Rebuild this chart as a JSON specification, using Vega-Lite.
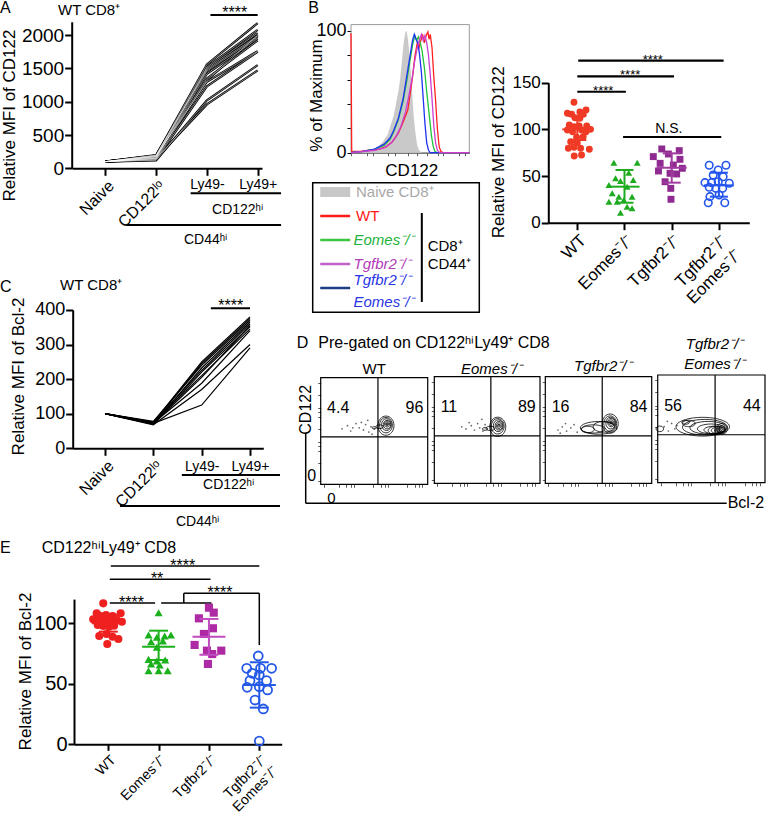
{
"$schema":"https://vega.github.io/schema/vega-lite/v6.json",
"width":766,"height":815,"autosize":"none","padding":0,"background":"white",
"config":{
 "font":"Liberation Sans",
 "view":{"stroke":null},
 "legend":{"disable":true},
 "axis":{"grid":false,"domainColor":"#000","domainWidth":2,"tickColor":"#000","tickWidth":2,"tickSize":7,"labelColor":"#000","titleColor":"#000","labelFont":"Liberation Sans","titleFont":"Liberation Sans","titleFontWeight":"normal","labelOverlap":false,"labelFlush":false,"labelBound":false,"labelLimit":0},
 "text":{"color":"#000","font":"Liberation Sans"}
},
"datasets":{
 "linesA":[
  {"m":1,"stage":"Naive","mfi":100},{"m":1,"stage":"CD122lo","mfi":190},{"m":1,"stage":"Ly49-","mfi":1560},{"m":1,"stage":"Ly49+","mfi":2180},
  {"m":2,"stage":"Naive","mfi":100},{"m":2,"stage":"CD122lo","mfi":180},{"m":2,"stage":"Ly49-","mfi":1520},{"m":2,"stage":"Ly49+","mfi":2080},
  {"m":3,"stage":"Naive","mfi":100},{"m":3,"stage":"CD122lo","mfi":170},{"m":3,"stage":"Ly49-","mfi":1500},{"m":3,"stage":"Ly49+","mfi":2030},
  {"m":4,"stage":"Naive","mfi":100},{"m":4,"stage":"CD122lo","mfi":200},{"m":4,"stage":"Ly49-","mfi":1480},{"m":4,"stage":"Ly49+","mfi":1990},
  {"m":5,"stage":"Naive","mfi":100},{"m":5,"stage":"CD122lo","mfi":160},{"m":5,"stage":"Ly49-","mfi":1460},{"m":5,"stage":"Ly49+","mfi":1970},
  {"m":6,"stage":"Naive","mfi":100},{"m":6,"stage":"CD122lo","mfi":150},{"m":6,"stage":"Ly49-","mfi":1420},{"m":6,"stage":"Ly49+","mfi":1950},
  {"m":7,"stage":"Naive","mfi":100},{"m":7,"stage":"CD122lo","mfi":175},{"m":7,"stage":"Ly49-","mfi":1350},{"m":7,"stage":"Ly49+","mfi":1920},
  {"m":8,"stage":"Naive","mfi":100},{"m":8,"stage":"CD122lo","mfi":140},{"m":8,"stage":"Ly49-","mfi":1320},{"m":8,"stage":"Ly49+","mfi":2000},
  {"m":9,"stage":"Naive","mfi":100},{"m":9,"stage":"CD122lo","mfi":190},{"m":9,"stage":"Ly49-","mfi":1300},{"m":9,"stage":"Ly49+","mfi":1760},
  {"m":10,"stage":"Naive","mfi":100},{"m":10,"stage":"CD122lo","mfi":130},{"m":10,"stage":"Ly49-","mfi":1230},{"m":10,"stage":"Ly49+","mfi":1750},
  {"m":11,"stage":"Naive","mfi":100},{"m":11,"stage":"CD122lo","mfi":120},{"m":11,"stage":"Ly49-","mfi":1020},{"m":11,"stage":"Ly49+","mfi":1550},
  {"m":12,"stage":"Naive","mfi":100},{"m":12,"stage":"CD122lo","mfi":150},{"m":12,"stage":"Ly49-","mfi":960},{"m":12,"stage":"Ly49+","mfi":1470}
 ],
 "linesC":[
  {"m":1,"stage":"Naive","mfi":100},{"m":1,"stage":"CD122lo","mfi":75},{"m":1,"stage":"Ly49-","mfi":250},{"m":1,"stage":"Ly49+","mfi":380},
  {"m":2,"stage":"Naive","mfi":100},{"m":2,"stage":"CD122lo","mfi":72},{"m":2,"stage":"Ly49-","mfi":245},{"m":2,"stage":"Ly49+","mfi":375},
  {"m":3,"stage":"Naive","mfi":100},{"m":3,"stage":"CD122lo","mfi":78},{"m":3,"stage":"Ly49-","mfi":240},{"m":3,"stage":"Ly49+","mfi":370},
  {"m":4,"stage":"Naive","mfi":100},{"m":4,"stage":"CD122lo","mfi":70},{"m":4,"stage":"Ly49-","mfi":232},{"m":4,"stage":"Ly49+","mfi":365},
  {"m":5,"stage":"Naive","mfi":100},{"m":5,"stage":"CD122lo","mfi":74},{"m":5,"stage":"Ly49-","mfi":225},{"m":5,"stage":"Ly49+","mfi":360},
  {"m":6,"stage":"Naive","mfi":100},{"m":6,"stage":"CD122lo","mfi":69},{"m":6,"stage":"Ly49-","mfi":220},{"m":6,"stage":"Ly49+","mfi":352},
  {"m":7,"stage":"Naive","mfi":100},{"m":7,"stage":"CD122lo","mfi":76},{"m":7,"stage":"Ly49-","mfi":210},{"m":7,"stage":"Ly49+","mfi":345},
  {"m":8,"stage":"Naive","mfi":100},{"m":8,"stage":"CD122lo","mfi":71},{"m":8,"stage":"Ly49-","mfi":205},{"m":8,"stage":"Ly49+","mfi":355},
  {"m":9,"stage":"Naive","mfi":100},{"m":9,"stage":"CD122lo","mfi":73},{"m":9,"stage":"Ly49-","mfi":188},{"m":9,"stage":"Ly49+","mfi":340},
  {"m":10,"stage":"Naive","mfi":100},{"m":10,"stage":"CD122lo","mfi":68},{"m":10,"stage":"Ly49-","mfi":170},{"m":10,"stage":"Ly49+","mfi":300},
  {"m":11,"stage":"Naive","mfi":100},{"m":11,"stage":"CD122lo","mfi":72},{"m":11,"stage":"Ly49-","mfi":125},{"m":11,"stage":"Ly49+","mfi":290}
 ],
 "sigA":[{"from":2.07,"to":3.0,"mid":2.55,"y":2302,"label":"****"}],
 "sigC":[{"from":2.19,"to":3.0,"mid":2.6,"y":405,"label":"****"}],
 "hist":[
  {"sample":"Naive","cd122":0,"pct":0},{"sample":"Naive","cd122":8,"pct":0.5},{"sample":"Naive","cd122":15,"pct":1.5},{"sample":"Naive","cd122":22,"pct":4},{"sample":"Naive","cd122":27,"pct":9},{"sample":"Naive","cd122":31,"pct":15},{"sample":"Naive","cd122":34,"pct":24},{"sample":"Naive","cd122":36,"pct":30},{"sample":"Naive","cd122":38,"pct":40},{"sample":"Naive","cd122":40,"pct":50},{"sample":"Naive","cd122":41.5,"pct":60},{"sample":"Naive","cd122":43,"pct":75},{"sample":"Naive","cd122":44.5,"pct":90},{"sample":"Naive","cd122":46,"pct":99},{"sample":"Naive","cd122":47,"pct":100},{"sample":"Naive","cd122":48,"pct":94},{"sample":"Naive","cd122":49,"pct":85},{"sample":"Naive","cd122":50,"pct":74},{"sample":"Naive","cd122":51,"pct":60},{"sample":"Naive","cd122":52,"pct":44},{"sample":"Naive","cd122":53,"pct":30},{"sample":"Naive","cd122":54,"pct":20},{"sample":"Naive","cd122":55,"pct":12},{"sample":"Naive","cd122":56,"pct":6},{"sample":"Naive","cd122":57.5,"pct":2},{"sample":"Naive","cd122":60,"pct":0},{"sample":"Naive","cd122":100,"pct":0},
  {"sample":"WT","cd122":0,"pct":98},{"sample":"WT","cd122":0.6,"pct":1},{"sample":"WT","cd122":8,"pct":1},{"sample":"WT","cd122":16,"pct":2},{"sample":"WT","cd122":24,"pct":3},{"sample":"WT","cd122":30,"pct":5},{"sample":"WT","cd122":35,"pct":9},{"sample":"WT","cd122":40,"pct":16},{"sample":"WT","cd122":44,"pct":25},{"sample":"WT","cd122":48,"pct":35},{"sample":"WT","cd122":50,"pct":48},{"sample":"WT","cd122":52,"pct":62},{"sample":"WT","cd122":54,"pct":79},{"sample":"WT","cd122":56,"pct":90},{"sample":"WT","cd122":57.5,"pct":86},{"sample":"WT","cd122":59,"pct":92},{"sample":"WT","cd122":60.5,"pct":97},{"sample":"WT","cd122":62,"pct":90},{"sample":"WT","cd122":63.5,"pct":96},{"sample":"WT","cd122":65,"pct":99},{"sample":"WT","cd122":66,"pct":93},{"sample":"WT","cd122":67,"pct":97},{"sample":"WT","cd122":68.5,"pct":86},{"sample":"WT","cd122":70,"pct":62},{"sample":"WT","cd122":71.5,"pct":43},{"sample":"WT","cd122":73,"pct":20},{"sample":"WT","cd122":74.5,"pct":5},{"sample":"WT","cd122":76,"pct":1},{"sample":"WT","cd122":78,"pct":0},{"sample":"WT","cd122":100,"pct":0},
  {"sample":"Eomes","cd122":0,"pct":0},{"sample":"Eomes","cd122":10,"pct":1},{"sample":"Eomes","cd122":20,"pct":3},{"sample":"Eomes","cd122":28,"pct":6},{"sample":"Eomes","cd122":33,"pct":11},{"sample":"Eomes","cd122":36,"pct":17},{"sample":"Eomes","cd122":40,"pct":27},{"sample":"Eomes","cd122":44,"pct":42},{"sample":"Eomes","cd122":47,"pct":58},{"sample":"Eomes","cd122":50,"pct":76},{"sample":"Eomes","cd122":52,"pct":88},{"sample":"Eomes","cd122":54,"pct":96},{"sample":"Eomes","cd122":55.5,"pct":92},{"sample":"Eomes","cd122":57,"pct":95},{"sample":"Eomes","cd122":58.5,"pct":90},{"sample":"Eomes","cd122":60,"pct":84},{"sample":"Eomes","cd122":62,"pct":70},{"sample":"Eomes","cd122":64,"pct":50},{"sample":"Eomes","cd122":66,"pct":32},{"sample":"Eomes","cd122":68,"pct":14},{"sample":"Eomes","cd122":69.5,"pct":5},{"sample":"Eomes","cd122":71,"pct":1},{"sample":"Eomes","cd122":73,"pct":0},{"sample":"Eomes","cd122":100,"pct":0},
  {"sample":"DKO","cd122":0,"pct":0},{"sample":"DKO","cd122":10,"pct":1},{"sample":"DKO","cd122":20,"pct":3},{"sample":"DKO","cd122":28,"pct":7},{"sample":"DKO","cd122":33,"pct":12},{"sample":"DKO","cd122":36,"pct":18},{"sample":"DKO","cd122":40,"pct":28},{"sample":"DKO","cd122":44,"pct":44},{"sample":"DKO","cd122":47,"pct":62},{"sample":"DKO","cd122":50,"pct":80},{"sample":"DKO","cd122":52,"pct":92},{"sample":"DKO","cd122":53.5,"pct":97},{"sample":"DKO","cd122":55,"pct":93},{"sample":"DKO","cd122":56.5,"pct":90},{"sample":"DKO","cd122":58,"pct":80},{"sample":"DKO","cd122":59.5,"pct":66},{"sample":"DKO","cd122":61,"pct":45},{"sample":"DKO","cd122":62.5,"pct":24},{"sample":"DKO","cd122":64,"pct":8},{"sample":"DKO","cd122":65.5,"pct":2},{"sample":"DKO","cd122":67,"pct":0},{"sample":"DKO","cd122":100,"pct":0},
  {"sample":"Tgfbr2","cd122":0,"pct":0},{"sample":"Tgfbr2","cd122":10,"pct":1},{"sample":"Tgfbr2","cd122":20,"pct":2},{"sample":"Tgfbr2","cd122":28,"pct":4},{"sample":"Tgfbr2","cd122":34,"pct":8},{"sample":"Tgfbr2","cd122":38,"pct":13},{"sample":"Tgfbr2","cd122":42,"pct":21},{"sample":"Tgfbr2","cd122":46,"pct":33},{"sample":"Tgfbr2","cd122":49,"pct":47},{"sample":"Tgfbr2","cd122":52,"pct":63},{"sample":"Tgfbr2","cd122":54,"pct":76},{"sample":"Tgfbr2","cd122":56,"pct":86},{"sample":"Tgfbr2","cd122":58,"pct":93},{"sample":"Tgfbr2","cd122":59.5,"pct":97},{"sample":"Tgfbr2","cd122":61,"pct":92},{"sample":"Tgfbr2","cd122":62.5,"pct":96},{"sample":"Tgfbr2","cd122":64,"pct":90},{"sample":"Tgfbr2","cd122":65.5,"pct":80},{"sample":"Tgfbr2","cd122":67,"pct":64},{"sample":"Tgfbr2","cd122":68.5,"pct":44},{"sample":"Tgfbr2","cd122":70,"pct":22},{"sample":"Tgfbr2","cd122":71.5,"pct":8},{"sample":"Tgfbr2","cd122":73,"pct":2},{"sample":"Tgfbr2","cd122":75,"pct":0},{"sample":"Tgfbr2","cd122":100,"pct":0}
 ],
 "legendB":[{"kind":"Naive","label":"Naive CD8⁺"},{"kind":"WT","label":"WT"},{"kind":"Eomes","label":"Eomes⁻/⁻"},{"kind":"Tgfbr2","label":"Tgfbr2⁻/⁻"},{"kind":"DKO","label":"Tgfbr2⁻/⁻\nEomes⁻/⁻"}],
 "dotB":[
  {"group":"WT","dx":-0.14,"mfi":129.0},{"group":"WT","dx":-0.42,"mfi":117.2},{"group":"WT","dx":-0.24,"mfi":116.1},{"group":"WT","dx":0.11,"mfi":118.6},{"group":"WT","dx":0.37,"mfi":120.8},{"group":"WT","dx":0.25,"mfi":116.1},{"group":"WT","dx":-0.1,"mfi":112.5},{"group":"WT","dx":0.11,"mfi":111.8},{"group":"WT","dx":-0.34,"mfi":104.7},{"group":"WT","dx":-0.14,"mfi":102.9},{"group":"WT","dx":0.08,"mfi":103.6},{"group":"WT","dx":0.4,"mfi":103.6},{"group":"WT","dx":0.56,"mfi":100},{"group":"WT","dx":-0.42,"mfi":99.3},{"group":"WT","dx":-0.2,"mfi":97.5},{"group":"WT","dx":0.18,"mfi":99.3},{"group":"WT","dx":0.37,"mfi":97.5},{"group":"WT","dx":-0.03,"mfi":91.5},{"group":"WT","dx":0.25,"mfi":92.1},{"group":"WT","dx":-0.28,"mfi":86.8},{"group":"WT","dx":0,"mfi":85.7},{"group":"WT","dx":-0.38,"mfi":79.7},{"group":"WT","dx":-0.14,"mfi":80.8},{"group":"WT","dx":0.14,"mfi":79.7},{"group":"WT","dx":0.51,"mfi":78.6},{"group":"WT","dx":-0.13,"mfi":71.5},{"group":"WT","dx":0.18,"mfi":72.5},
  {"group":"Eomes","dx":-0.45,"mfi":64.3},{"group":"Eomes","dx":0.54,"mfi":64.3},{"group":"Eomes","dx":0.18,"mfi":53.6},{"group":"Eomes","dx":-0.38,"mfi":47.5},{"group":"Eomes","dx":0.37,"mfi":45.7},{"group":"Eomes","dx":-0.17,"mfi":44.6},{"group":"Eomes","dx":-0.66,"mfi":40.4},{"group":"Eomes","dx":0.11,"mfi":38.6},{"group":"Eomes","dx":-0.52,"mfi":31.5},{"group":"Eomes","dx":-0.24,"mfi":27.9},{"group":"Eomes","dx":0.32,"mfi":27.9},{"group":"Eomes","dx":-0.03,"mfi":24.3},{"group":"Eomes","dx":-0.66,"mfi":22.5},{"group":"Eomes","dx":-0.31,"mfi":22.5},{"group":"Eomes","dx":0.11,"mfi":17.1},{"group":"Eomes","dx":0.32,"mfi":15.4},{"group":"Eomes","dx":-0.17,"mfi":10.7},
  {"group":"Tgfbr2","dx":-0.42,"mfi":79.0},{"group":"Tgfbr2","dx":0.32,"mfi":77.2},{"group":"Tgfbr2","dx":-0.78,"mfi":70.8},{"group":"Tgfbr2","dx":-0.14,"mfi":73.6},{"group":"Tgfbr2","dx":0.35,"mfi":67.9},{"group":"Tgfbr2","dx":-0.49,"mfi":63.6},{"group":"Tgfbr2","dx":0.07,"mfi":61.8},{"group":"Tgfbr2","dx":0.45,"mfi":58.3},{"group":"Tgfbr2","dx":-0.56,"mfi":55.4},{"group":"Tgfbr2","dx":-0.07,"mfi":52.9},{"group":"Tgfbr2","dx":0.21,"mfi":52.2},{"group":"Tgfbr2","dx":-0.28,"mfi":43.9},{"group":"Tgfbr2","dx":-0.04,"mfi":36.8},{"group":"Tgfbr2","dx":-0.03,"mfi":25.1},
  {"group":"DKO","dx":-0.41,"mfi":61.5},{"group":"DKO","dx":0.3,"mfi":61.5},{"group":"DKO","dx":-0.03,"mfi":56.4},{"group":"DKO","dx":-0.24,"mfi":51.1},{"group":"DKO","dx":0.18,"mfi":49.3},{"group":"DKO","dx":-0.59,"mfi":42.9},{"group":"DKO","dx":-0.31,"mfi":42.9},{"group":"DKO","dx":-0.03,"mfi":43.9},{"group":"DKO","dx":0.44,"mfi":42.2},{"group":"DKO","dx":-0.41,"mfi":37.9},{"group":"DKO","dx":-0.13,"mfi":36.8},{"group":"DKO","dx":0.16,"mfi":36.8},{"group":"DKO","dx":-0.38,"mfi":27.9},{"group":"DKO","dx":0.01,"mfi":29.7},{"group":"DKO","dx":-0.45,"mfi":21.4},{"group":"DKO","dx":0.25,"mfi":21.4}
 ],
 "sumB":[{"group":"WT","mean":100,"lo":88.6,"hi":114.3},{"group":"Eomes","mean":38.6,"lo":21.4,"hi":56.5},{"group":"Tgfbr2","mean":58.9,"lo":42.9,"hi":74.3},{"group":"DKO","mean":40,"lo":27.9,"hi":53.6}],
 "sigB":[{"from":0,"to":1.03,"mid":0.55,"y":140.3,"label":"****"},{"from":0,"to":2.05,"mid":1.12,"y":156.8,"label":"****"},{"from":0.02,"to":3.1,"mid":1.6,"y":173.6,"label":"****"},{"from":0.97,"to":3.05,"mid":1.94,"y":91.8,"label":"N.S."}],
 "dotE":[
  {"group":"WT","dx":-0.2,"mfi":116.5},{"group":"WT","dx":-0.46,"mfi":108.3},{"group":"WT","dx":-0.3,"mfi":106},{"group":"WT","dx":-0.09,"mfi":106.9},{"group":"WT","dx":0.17,"mfi":106},{"group":"WT","dx":0.49,"mfi":108.3},{"group":"WT","dx":-0.6,"mfi":103.3},{"group":"WT","dx":-0.37,"mfi":102.7},{"group":"WT","dx":-0.13,"mfi":102.2},{"group":"WT","dx":0.09,"mfi":101.3},{"group":"WT","dx":0.33,"mfi":102.7},{"group":"WT","dx":0.54,"mfi":101.3},{"group":"WT","dx":-0.42,"mfi":98.6},{"group":"WT","dx":-0.2,"mfi":97.8},{"group":"WT","dx":0.03,"mfi":97.2},{"group":"WT","dx":0.23,"mfi":98},{"group":"WT","dx":-0.36,"mfi":89.5},{"group":"WT","dx":-0.07,"mfi":91.2},{"group":"WT","dx":0.17,"mfi":88.9},{"group":"WT","dx":0.4,"mfi":87},{"group":"WT","dx":-0.04,"mfi":82.9},
  {"group":"Eomes","dx":0,"mfi":108.8},{"group":"Eomes","dx":-0.4,"mfi":90.3},{"group":"Eomes","dx":-0.07,"mfi":88.4},{"group":"Eomes","dx":0.24,"mfi":89.5},{"group":"Eomes","dx":0.49,"mfi":90.3},{"group":"Eomes","dx":-0.3,"mfi":84.8},{"group":"Eomes","dx":0.17,"mfi":85.4},{"group":"Eomes","dx":-0.07,"mfi":80.2},{"group":"Eomes","dx":-0.4,"mfi":70.2},{"group":"Eomes","dx":-0.07,"mfi":68.8},{"group":"Eomes","dx":0.26,"mfi":69.7},{"group":"Eomes","dx":-0.3,"mfi":66.4},{"group":"Eomes","dx":0.04,"mfi":65.5},{"group":"Eomes","dx":-0.4,"mfi":60.8},{"group":"Eomes","dx":0,"mfi":60.8},{"group":"Eomes","dx":0.36,"mfi":60.8},
  {"group":"Tgfbr2","dx":0,"mfi":112.9},{"group":"Tgfbr2","dx":0.19,"mfi":108.8},{"group":"Tgfbr2","dx":-0.4,"mfi":104.1},{"group":"Tgfbr2","dx":0.16,"mfi":95.9},{"group":"Tgfbr2","dx":-0.2,"mfi":91.2},{"group":"Tgfbr2","dx":-0.57,"mfi":82.1},{"group":"Tgfbr2","dx":-0.08,"mfi":77.4},{"group":"Tgfbr2","dx":0.49,"mfi":77.4},{"group":"Tgfbr2","dx":0.13,"mfi":74.6},{"group":"Tgfbr2","dx":-0.04,"mfi":66.4},
  {"group":"DKO","dx":-0.04,"mfi":73},{"group":"DKO","dx":-0.5,"mfi":62.8},{"group":"DKO","dx":0.05,"mfi":62.8},{"group":"DKO","dx":0.49,"mfi":62.8},{"group":"DKO","dx":-0.28,"mfi":58.7},{"group":"DKO","dx":0,"mfi":57.3},{"group":"DKO","dx":-0.37,"mfi":52.6},{"group":"DKO","dx":0.29,"mfi":52.6},{"group":"DKO","dx":0,"mfi":47.6},{"group":"DKO","dx":-0.48,"mfi":47.1},{"group":"DKO","dx":0.33,"mfi":44.9},{"group":"DKO","dx":-0.17,"mfi":36.6},{"group":"DKO","dx":0.16,"mfi":29.2},{"group":"DKO","dx":0,"mfi":2.7}
 ],
 "sumE":[{"group":"WT","mean":100,"lo":93.1,"hi":106.9},{"group":"Eomes","mean":80.7,"lo":69.7,"hi":93.9},{"group":"Tgfbr2","mean":88.9,"lo":74,"hi":103.6},{"group":"DKO","mean":49,"lo":30.3,"hi":67.8}],
 "sigEh":[{"from":0.03,"to":0.93,"y":116.8},{"from":1.05,"to":2.05,"y":116.8},{"from":1.5,"to":3,"y":124.8},{"from":0.03,"to":2.03,"y":136.5},{"from":0.05,"to":3,"y":147.4}],
 "sigEv":[{"x":1.5,"y1":116.8,"y2":124.8},{"x":3,"y1":124.8,"y2":82}],
 "sigEt":[{"x":0.46,"y":116.8,"t":"****"},{"x":2.22,"y":124.8,"t":"****"},{"x":0.97,"y":136.5,"t":"**"},{"x":1.48,"y":147.4,"t":"****"}],
 "flowD":[
  {"geno":"WT","bcl2":61,"cd122":55,"hw":7.5,"form":"t"},{"geno":"WT","bcl2":61,"cd122":55.5,"hw":6,"form":"t"},{"geno":"WT","bcl2":61.5,"cd122":56,"hw":4.6,"form":"t"},{"geno":"WT","bcl2":62,"cd122":56,"hw":3.4,"form":"t"},{"geno":"WT","bcl2":62,"cd122":56.5,"hw":2.3,"form":"t"},{"geno":"WT","bcl2":62,"cd122":56.5,"hw":1.3,"form":"o"},{"geno":"WT","bcl2":62,"cd122":56.5,"hw":0.6,"form":"o"},{"geno":"WT","bcl2":55,"cd122":54,"hw":3.5,"form":"w"},{"geno":"WT","bcl2":50,"cd122":53,"hw":2,"form":"w"},
  {"geno":"Eomes","bcl2":60,"cd122":53,"hw":7.5,"form":"t"},{"geno":"Eomes","bcl2":60,"cd122":53.5,"hw":6,"form":"t"},{"geno":"Eomes","bcl2":60.5,"cd122":54,"hw":4.6,"form":"t"},{"geno":"Eomes","bcl2":61,"cd122":54,"hw":3.4,"form":"t"},{"geno":"Eomes","bcl2":61,"cd122":54,"hw":2.3,"form":"t"},{"geno":"Eomes","bcl2":61,"cd122":54,"hw":1.3,"form":"o"},{"geno":"Eomes","bcl2":61,"cd122":54.5,"hw":0.6,"form":"o"},{"geno":"Eomes","bcl2":53,"cd122":51.5,"hw":4,"form":"w"},{"geno":"Eomes","bcl2":48,"cd122":51,"hw":2.5,"form":"w"},
  {"geno":"Tgfbr2","bcl2":61,"cd122":56,"hw":7.5,"form":"t"},{"geno":"Tgfbr2","bcl2":61,"cd122":56,"hw":6,"form":"t"},{"geno":"Tgfbr2","bcl2":61.5,"cd122":56.5,"hw":4.6,"form":"t"},{"geno":"Tgfbr2","bcl2":62,"cd122":57,"hw":3.3,"form":"t"},{"geno":"Tgfbr2","bcl2":62,"cd122":57,"hw":2.2,"form":"t"},{"geno":"Tgfbr2","bcl2":62,"cd122":57,"hw":1.2,"form":"o"},{"geno":"Tgfbr2","bcl2":62,"cd122":57,"hw":0.6,"form":"o"},{"geno":"Tgfbr2","bcl2":50,"cd122":52,"hw":17,"form":"x"},{"geno":"Tgfbr2","bcl2":45,"cd122":51,"hw":11,"form":"x"},{"geno":"Tgfbr2","bcl2":40,"cd122":50.5,"hw":6,"form":"w"},{"geno":"Tgfbr2","bcl2":55,"cd122":53,"hw":10,"form":"w"},
  {"geno":"DKO","bcl2":42,"cd122":52,"hw":25,"form":"x"},{"geno":"DKO","bcl2":44,"cd122":51.5,"hw":21,"form":"x"},{"geno":"DKO","bcl2":47,"cd122":51,"hw":17,"form":"x"},{"geno":"DKO","bcl2":50,"cd122":50,"hw":13,"form":"x"},{"geno":"DKO","bcl2":53,"cd122":49,"hw":10,"form":"x"},{"geno":"DKO","bcl2":55,"cd122":48.5,"hw":8,"form":"w"},{"geno":"DKO","bcl2":56,"cd122":48.5,"hw":6,"form":"w"},{"geno":"DKO","bcl2":57,"cd122":48.5,"hw":4,"form":"w"},{"geno":"DKO","bcl2":57,"cd122":48.5,"hw":2.5,"form":"w"},{"geno":"DKO","bcl2":57,"cd122":48.5,"hw":1.2,"form":"w"},{"geno":"DKO","bcl2":60,"cd122":50,"hw":5,"form":"o"},{"geno":"DKO","bcl2":60,"cd122":50,"hw":3,"form":"o"},{"geno":"DKO","bcl2":29,"cd122":55,"hw":6,"form":"w"},{"geno":"DKO","bcl2":26,"cd122":56,"hw":3.5,"form":"w"},{"geno":"DKO","bcl2":2,"cd122":50,"hw":3.5,"form":"m"}
 ],
 "eventsD":[
  {"geno":"WT","bcl2":20,"cd122":52},{"geno":"WT","bcl2":25,"cd122":55},{"geno":"WT","bcl2":28,"cd122":50},{"geno":"WT","bcl2":33,"cd122":57},{"geno":"WT","bcl2":36,"cd122":53},{"geno":"WT","bcl2":40,"cd122":51},{"geno":"WT","bcl2":42,"cd122":56},{"geno":"WT","bcl2":45,"cd122":49},{"geno":"WT","bcl2":47,"cd122":54},{"geno":"WT","bcl2":50,"cd122":52},{"geno":"WT","bcl2":38,"cd122":58},{"geno":"WT","bcl2":30,"cd122":53},{"geno":"WT","bcl2":44,"cd122":60},{"geno":"WT","bcl2":48,"cd122":47},
  {"geno":"Eomes","bcl2":30,"cd122":51},{"geno":"Eomes","bcl2":35,"cd122":54},{"geno":"Eomes","bcl2":38,"cd122":50},{"geno":"Eomes","bcl2":41,"cd122":56},{"geno":"Eomes","bcl2":43,"cd122":52},{"geno":"Eomes","bcl2":46,"cd122":49},{"geno":"Eomes","bcl2":48,"cd122":55},{"geno":"Eomes","bcl2":33,"cd122":57},{"geno":"Eomes","bcl2":26,"cd122":53},{"geno":"Eomes","bcl2":45,"cd122":60},
  {"geno":"Tgfbr2","bcl2":12,"cd122":50},{"geno":"Tgfbr2","bcl2":16,"cd122":53},{"geno":"Tgfbr2","bcl2":20,"cd122":49},{"geno":"Tgfbr2","bcl2":24,"cd122":52},{"geno":"Tgfbr2","bcl2":27,"cd122":55},{"geno":"Tgfbr2","bcl2":30,"cd122":48},{"geno":"Tgfbr2","bcl2":19,"cd122":56},{"geno":"Tgfbr2","bcl2":14,"cd122":47},
  {"geno":"DKO","bcl2":6,"cd122":52},{"geno":"DKO","bcl2":10,"cd122":48},{"geno":"DKO","bcl2":13,"cd122":55},{"geno":"DKO","bcl2":16,"cd122":50},{"geno":"DKO","bcl2":9,"cd122":57},{"geno":"DKO","bcl2":18,"cd122":53}
 ],
 "pctD":[{"geno":"WT","ul":"4.4","ur":"96","title":"WT"},{"geno":"Eomes","ul":"11","ur":"89","title":"Eomes⁻/⁻"},{"geno":"Tgfbr2","ul":"16","ur":"84","title":"Tgfbr2⁻/⁻"},{"geno":"DKO","ul":"56","ur":"44","title":"Tgfbr2⁻/⁻\nEomes⁻/⁻"}]
},
"layer":[
 {"layer":[
  {"layer":[
   {"data":{"name":"sigA"},"mark":{"type":"rule","strokeWidth":2,"color":"#000"},
    "encoding":{
     "x":{"field":"from","type":"quantitative","scale":{"domain":[-0.655,3.085],"range":[72,262],"nice":false,"zero":false},"axis":{"orient":"bottom","offset":-646.7,"values":[0,1,2,3],"labelExpr":"datum.value == 0 ? 'Naive' : datum.value == 1 ? 'CD122ˡᵒ' : ''","labelAngle":-45,"labelAlign":"right","labelBaseline":"top","labelFontSize":16,"labelPadding":2,"title":"CD44ʰⁱ","titleX":205,"titleY":75,"titleAlign":"center","titleBaseline":"alphabetic","titleFontSize":14,"titleAngle":0}},
     "x2":{"field":"to"},
     "y":{"field":"y","type":"quantitative","scale":{"domain":[0,2200],"range":[168.3,21.8],"nice":false,"zero":false},"axis":{"orient":"left","offset":-71.7,"values":[0,500,1000,1500,2000],"format":"d","labelFontSize":19,"labelPadding":1,"title":"Relative MFI of CD122","titleFontSize":17,"titleX":-62.5,"titleY":115,"titleAngle":-90,"titleAlign":"center","titleBaseline":"middle"}}}},
   {"data":{"name":"sigA"},"mark":{"type":"text","fontSize":16,"baseline":"alphabetic","dy":3.4},
    "encoding":{"x":{"field":"mid","type":"quantitative","scale":{"domain":[-0.655,3.085],"range":[72,262],"nice":false,"zero":false}},"y":{"field":"y","type":"quantitative","scale":{"domain":[0,2200],"range":[168.3,21.8],"nice":false,"zero":false}},"text":{"field":"label"}}},
   {"data":{"values":[{}]},"mark":{"type":"rule","strokeWidth":2,"color":"#000","yOffset":25},
    "encoding":{"x":{"datum":1.68,"type":"quantitative","scale":{"domain":[-0.655,3.085],"range":[72,262],"nice":false,"zero":false}},"x2":{"datum":3.46},"y":{"datum":0,"type":"quantitative","scale":{"domain":[0,2200],"range":[168.3,21.8],"nice":false,"zero":false}}}},
   {"data":{"values":[{}]},"mark":{"type":"rule","strokeWidth":2,"color":"#000","yOffset":56.7},
    "encoding":{"x":{"datum":0.41,"type":"quantitative","scale":{"domain":[-0.655,3.085],"range":[72,262],"nice":false,"zero":false}},"x2":{"datum":3.46},"y":{"datum":0,"type":"quantitative","scale":{"domain":[0,2200],"range":[168.3,21.8],"nice":false,"zero":false}}}},
   {"data":{"values":[{}]},"mark":{"type":"text","fontSize":16,"align":"left","baseline":"alphabetic"},
    "encoding":{"x":{"datum":-2.073,"type":"quantitative","scale":{"domain":[-0.655,3.085],"range":[72,262],"nice":false,"zero":false}},"y":{"datum":2336,"type":"quantitative","scale":{"domain":[0,2200],"range":[168.3,21.8],"nice":false,"zero":false}},"text":{"value":"A"}}},
   {"data":{"values":[{}]},"mark":{"type":"text","fontSize":15,"align":"left","baseline":"alphabetic"},
    "encoding":{"x":{"datum":-0.931,"type":"quantitative","scale":{"domain":[-0.655,3.085],"range":[72,262],"nice":false,"zero":false}},"y":{"datum":2302,"type":"quantitative","scale":{"domain":[0,2200],"range":[168.3,21.8],"nice":false,"zero":false}},"text":{"value":"WT CD8⁺"}}}
  ]},
  {"layer":[
   {"data":{"name":"linesA"},"mark":{"type":"line","color":"#000","strokeWidth":2.2},
    "encoding":{
     "x":{"field":"stage","type":"ordinal","sort":["Naive","CD122lo","Ly49-","Ly49+"],"scale":{"type":"point","domain":["Naive","CD122lo","Ly49-","Ly49+"],"range":[105.3,257.7],"padding":0},"axis":{"orient":"bottom","offset":-646.7,"domain":false,"ticks":false,"tickSize":0,"labelExpr":"datum.value == 'Ly49-' || datum.value == 'Ly49+' ? datum.value : ''","labelAngle":0,"labelAlign":"center","labelBaseline":"top","labelPadding":8.7,"labelFontSize":14,"title":"CD122ʰⁱ","titleX":237,"titleY":45,"titleAlign":"center","titleBaseline":"alphabetic","titleFontSize":14,"titleAngle":0}},
     "y":{"field":"mfi","type":"quantitative","scale":{"domain":[0,2200],"range":[168.3,21.8],"nice":false,"zero":false}},
     "detail":{"field":"m","type":"nominal"}}},
   {"data":{"name":"linesA"},"mark":{"type":"line","color":"#ffffff","strokeWidth":0.5},
    "encoding":{
     "x":{"field":"stage","type":"ordinal","sort":["Naive","CD122lo","Ly49-","Ly49+"],"scale":{"type":"point","domain":["Naive","CD122lo","Ly49-","Ly49+"],"range":[105.3,257.7],"padding":0}},
     "y":{"field":"mfi","type":"quantitative","scale":{"domain":[0,2200],"range":[168.3,21.8],"nice":false,"zero":false}},
     "detail":{"field":"m","type":"nominal"}}}
  ]}
 ],"resolve":{"scale":{"x":"independent"}}},

 {"layer":[
  {"data":{"values":[{}]},"mark":{"type":"rect","filled":false,"color":"#9a9a9a","strokeWidth":1},
   "encoding":{
    "x":{"datum":0,"type":"quantitative","scale":{"domain":[0,100],"range":[351,469.3],"nice":false,"zero":false},"axis":{"orient":"bottom","offset":-662.3,"values":[0,5.9,9.3,11.7,13.6,15.2,16.5,17.6,18.6,19.5,25.4,28.8,31.2,33.1,34.7,36,37.1,38.1,39,44.9,48.3,50.7,52.6,54.2,55.5,56.6,57.6,58.5,64.4,67.8,70.2,72.1,73.7,75,76.1,77.1,78,83.9,87.3,89.7,91.6,93.2,94.5,95.6,96.6,97.5],"labels":false,"tickSize":3,"tickWidth":0.8,"tickColor":"#333","domainWidth":1,"domainColor":"#333","title":"CD122","titleFontSize":17,"titleX":411.3,"titleY":22.3,"titleAlign":"center","titleBaseline":"alphabetic","titleAngle":0}},
    "x2":{"datum":100},
    "y":{"datum":0,"type":"quantitative","scale":{"domain":[0,105],"range":[152.7,24.6],"nice":false,"zero":false},"axis":{"orient":"left","offset":-351,"values":[0,20,40,60,80,100],"format":"d","labelExpr":"datum.value == 0 || datum.value == 100 ? datum.label : ''","domain":false,"tickSize":4,"tickWidth":1,"labelFontSize":18,"labelPadding":1,"title":"% of Maximum","titleFontSize":17,"titleX":-34.3,"titleY":95,"titleAngle":-90,"titleAlign":"center","titleBaseline":"middle"}},
    "y2":{"datum":105}}},
  {"data":{"name":"hist"},"transform":[{"filter":"datum.sample == 'Naive'"}],"mark":{"type":"area","color":"#c9c9c9","opacity":1},
   "encoding":{"x":{"field":"cd122","type":"quantitative","scale":{"domain":[0,100],"range":[351,469.3],"nice":false,"zero":false}},"y":{"field":"pct","type":"quantitative","scale":{"domain":[0,105],"range":[152.7,24.6],"nice":false,"zero":false}}}},
  {"data":{"name":"hist"},"transform":[{"filter":"datum.sample != 'Naive'"}],"mark":{"type":"line","strokeWidth":1.3},
   "encoding":{"x":{"field":"cd122","type":"quantitative","scale":{"domain":[0,100],"range":[351,469.3],"nice":false,"zero":false}},"y":{"field":"pct","type":"quantitative","scale":{"domain":[0,105],"range":[152.7,24.6],"nice":false,"zero":false}},
    "color":{"field":"sample","type":"nominal","scale":{"domain":["Tgfbr2","Eomes","DKO","WT"],"range":["#cc3fd0","#21c23a","#1f33f2","#ff2020"]},"legend":null}}},
  {"data":{"values":[{}]},"mark":{"type":"text","fontSize":16,"align":"left","baseline":"alphabetic"},
   "encoding":{"x":{"datum":-36.1,"type":"quantitative","scale":{"domain":[0,100],"range":[351,469.3],"nice":false,"zero":false}},"y":{"datum":114.3,"type":"quantitative","scale":{"domain":[0,105],"range":[152.7,24.6],"nice":false,"zero":false}},"text":{"value":"B"}}}
 ]},

 {"layer":[
  {"layer":[
   {"data":{"values":[{}]},"mark":{"type":"rect","filled":false,"color":"#000","strokeWidth":1.5},
    "encoding":{"x":{"datum":0,"type":"quantitative","scale":{"domain":[0,100],"range":[312.7,479.3],"nice":false,"zero":false},"axis":null},"x2":{"datum":100},"y":{"datum":0,"type":"quantitative","scale":{"domain":[0,100],"range":[182.7,312.3],"nice":false,"zero":false},"axis":null},"y2":{"datum":100}}},
   {"data":{"values":[{}]},"mark":{"type":"rule","color":"#000","strokeWidth":2},
    "encoding":{"x":{"datum":65.5,"type":"quantitative","scale":{"domain":[0,100],"range":[312.7,479.3],"nice":false,"zero":false},"axis":null},"y":{"datum":23.4,"type":"quantitative","scale":{"domain":[0,100],"range":[182.7,312.3],"nice":false,"zero":false},"axis":null},"y2":{"datum":92}}},
   {"data":{"values":[{}]},"mark":{"type":"text","fontSize":15,"align":"left","baseline":"middle","lineBreak":"\n","lineHeight":18,"dy":-9},
    "encoding":{"x":{"datum":69,"type":"quantitative","scale":{"domain":[0,100],"range":[312.7,479.3],"nice":false,"zero":false},"axis":null},"y":{"datum":55.8,"type":"quantitative","scale":{"domain":[0,100],"range":[182.7,312.3],"nice":false,"zero":false},"axis":null},"text":{"value":"CD8⁺\nCD44⁺"}}}
  ]},
  {"layer":[
   {"data":{"name":"legendB"},"transform":[{"filter":"datum.kind == 'Naive'"}],"mark":{"type":"rule","color":"#c8c8c8","strokeWidth":10},
    "encoding":{"x":{"datum":4.5,"type":"quantitative","scale":{"domain":[0,100],"range":[312.7,479.3],"nice":false,"zero":false},"axis":null},"x2":{"datum":22.5},"y":{"field":"kind","type":"nominal","scale":{"type":"point","domain":["Naive","WT","Eomes","Tgfbr2","DKO"],"range":[192,288],"padding":0},"axis":null}}},
   {"data":{"name":"legendB"},"transform":[{"filter":"datum.kind != 'Naive'"}],"mark":{"type":"rule","strokeWidth":2.5},
    "encoding":{"x":{"datum":4.5,"type":"quantitative","scale":{"domain":[0,100],"range":[312.7,479.3],"nice":false,"zero":false},"axis":null},"x2":{"datum":22.5},"y":{"field":"kind","type":"nominal","scale":{"type":"point","domain":["Naive","WT","Eomes","Tgfbr2","DKO"],"range":[192,288],"padding":0},"axis":null},
     "color":{"field":"kind","type":"nominal","scale":{"domain":["WT","Eomes","Tgfbr2","DKO"],"range":["#ff1a1a","#3cc43c","#c060c8","#1c3c84"]},"legend":null}}},
   {"data":{"name":"legendB"},"transform":[{"filter":"datum.kind == 'Naive' || datum.kind == 'WT'"}],"mark":{"type":"text","fontSize":15,"align":"left","baseline":"middle"},
    "encoding":{"x":{"datum":26,"type":"quantitative","scale":{"domain":[0,100],"range":[312.7,479.3],"nice":false,"zero":false},"axis":null},"y":{"field":"kind","type":"nominal","scale":{"type":"point","domain":["Naive","WT","Eomes","Tgfbr2","DKO"],"range":[192,288],"padding":0},"axis":null},"text":{"field":"label"},
     "color":{"field":"kind","type":"nominal","scale":{"domain":["Naive","WT"],"range":["#a8a8a8","#ff1a1a"]},"legend":null}}},
   {"data":{"name":"legendB"},"transform":[{"filter":"datum.kind == 'Eomes' || datum.kind == 'Tgfbr2'"}],"mark":{"type":"text","fontSize":15,"fontStyle":"italic","align":"left","baseline":"middle"},
    "encoding":{"x":{"datum":24.5,"type":"quantitative","scale":{"domain":[0,100],"range":[312.7,479.3],"nice":false,"zero":false},"axis":null},"y":{"field":"kind","type":"nominal","scale":{"type":"point","domain":["Naive","WT","Eomes","Tgfbr2","DKO"],"range":[192,288],"padding":0},"axis":null},"text":{"field":"label"},
     "color":{"field":"kind","type":"nominal","scale":{"domain":["Eomes","Tgfbr2"],"range":["#22b33a","#b23ab8"]},"legend":null}}},
   {"data":{"name":"legendB"},"transform":[{"filter":"datum.kind == 'DKO'"}],"mark":{"type":"text","fontSize":15,"fontStyle":"italic","align":"left","baseline":"middle","lineBreak":"\n","lineHeight":22,"dy":-8,"color":"#2a35e6"},
    "encoding":{"x":{"datum":24.5,"type":"quantitative","scale":{"domain":[0,100],"range":[312.7,479.3],"nice":false,"zero":false},"axis":null},"y":{"field":"kind","type":"nominal","scale":{"type":"point","domain":["Naive","WT","Eomes","Tgfbr2","DKO"],"range":[192,288],"padding":0},"axis":null},"text":{"field":"label"}}}
  ],"resolve":{"scale":{"color":"independent"}}}
 ],"resolve":{"scale":{"y":"independent"}}},

 {"layer":[
  {"layer":[
   {"data":{"name":"sigB"},"mark":{"type":"rule","strokeWidth":2.2,"color":"#000"},
    "encoding":{
     "x":{"field":"from","type":"quantitative","scale":{"domain":[-0.614,3.644],"range":[548.3,749.3],"nice":false,"zero":false},"axis":{"orient":"bottom","offset":-592.3,"values":[0,1,2,3],"labelExpr":"datum.value == 0 ? 'WT' : datum.value == 1 ? 'Eomes⁻/⁻' : datum.value == 2 ? 'Tgfbr2⁻/⁻' : ['Tgfbr2⁻/⁻', 'Eomes⁻/⁻']","labelAngle":-45,"labelAlign":"right","labelBaseline":"top","labelFontSize":17,"labelLineHeight":20,"labelPadding":2,"title":null}},
     "x2":{"field":"to"},
     "y":{"field":"y","type":"quantitative","scale":{"domain":[0,150],"range":[222.7,82.7],"nice":false,"zero":false},"axis":{"orient":"left","offset":-548.3,"values":[0,50,100,150],"format":"d","labelFontSize":17,"labelPadding":1,"title":"Relative MFI of CD122","titleFontSize":17,"titleX":-50.3,"titleY":151.7,"titleAngle":-90,"titleAlign":"center","titleBaseline":"middle"}}}},
   {"data":{"name":"sigB"},"transform":[{"filter":"datum.label == '****'"}],"mark":{"type":"text","fontSize":13,"baseline":"alphabetic","dy":3},
    "encoding":{"x":{"field":"mid","type":"quantitative","scale":{"domain":[-0.614,3.644],"range":[548.3,749.3],"nice":false,"zero":false}},"y":{"field":"y","type":"quantitative","scale":{"domain":[0,150],"range":[222.7,82.7],"nice":false,"zero":false}},"text":{"field":"label"}}},
   {"data":{"name":"sigB"},"transform":[{"filter":"datum.label == 'N.S.'"}],"mark":{"type":"text","fontSize":14,"baseline":"alphabetic","dy":-3.7},
    "encoding":{"x":{"field":"mid","type":"quantitative","scale":{"domain":[-0.614,3.644],"range":[548.3,749.3],"nice":false,"zero":false}},"y":{"field":"y","type":"quantitative","scale":{"domain":[0,150],"range":[222.7,82.7],"nice":false,"zero":false}},"text":{"field":"label"}}}
  ]},
  {"layer":[
   {"data":{"name":"dotB"},"transform":[{"filter":"datum.group != 'DKO'"}],"mark":{"type":"point","filled":true,"size":48,"opacity":1},
    "encoding":{"x":{"field":"group","type":"nominal","scale":{"type":"band","domain":["WT","Eomes","Tgfbr2","DKO"],"range":[553.7,742.5],"paddingInner":0,"paddingOuter":0},"axis":null},
     "xOffset":{"field":"dx","type":"quantitative","scale":{"domain":[-1,1]}},
     "y":{"field":"mfi","type":"quantitative","scale":{"domain":[0,150],"range":[222.7,82.7],"nice":false,"zero":false}},
     "color":{"field":"group","type":"nominal","scale":{"domain":["WT","Eomes","Tgfbr2"],"range":["#ef3a26","#1fab1f","#8f2a90"]},"legend":null},
     "shape":{"field":"group","type":"nominal","scale":{"domain":["WT","Eomes","Tgfbr2"],"range":["circle","triangle-up","square"]},"legend":null}}},
   {"data":{"name":"dotB"},"transform":[{"filter":"datum.group == 'DKO'"}],"mark":{"type":"point","filled":false,"size":56,"strokeWidth":1.6,"color":"#2456ee","opacity":1},
    "encoding":{"x":{"field":"group","type":"nominal","scale":{"type":"band","domain":["WT","Eomes","Tgfbr2","DKO"],"range":[553.7,742.5],"paddingInner":0,"paddingOuter":0},"axis":null},
     "xOffset":{"field":"dx","type":"quantitative","scale":{"domain":[-1,1]}},
     "y":{"field":"mfi","type":"quantitative","scale":{"domain":[0,150],"range":[222.7,82.7],"nice":false,"zero":false}}}},
   {"data":{"name":"sumB"},"mark":{"type":"rule","strokeWidth":2},
    "encoding":{"x":{"field":"group","type":"nominal","scale":{"type":"band","domain":["WT","Eomes","Tgfbr2","DKO"],"range":[553.7,742.5],"paddingInner":0,"paddingOuter":0},"axis":null},"y":{"field":"lo","type":"quantitative","scale":{"domain":[0,150],"range":[222.7,82.7],"nice":false,"zero":false}},"y2":{"field":"hi"},
     "color":{"field":"group","type":"nominal","scale":{"domain":["WT","Eomes","Tgfbr2","DKO"],"range":["#ef3a26","#1fab1f","#a03ca0","#2456ee"]},"legend":null}}},
   {"data":{"name":"sumB"},"mark":{"type":"tick","thickness":2,"size":30,"opacity":1},
    "encoding":{"x":{"field":"group","type":"nominal","scale":{"type":"band","domain":["WT","Eomes","Tgfbr2","DKO"],"range":[553.7,742.5],"paddingInner":0,"paddingOuter":0},"axis":null},"y":{"field":"mean","type":"quantitative","scale":{"domain":[0,150],"range":[222.7,82.7],"nice":false,"zero":false}},
     "color":{"field":"group","type":"nominal","scale":{"domain":["WT","Eomes","Tgfbr2","DKO"],"range":["#ef3a26","#1fab1f","#a03ca0","#2456ee"]},"legend":null}}},
   {"data":{"name":"sumB"},"mark":{"type":"tick","thickness":2,"size":18,"opacity":1},
    "encoding":{"x":{"field":"group","type":"nominal","scale":{"type":"band","domain":["WT","Eomes","Tgfbr2","DKO"],"range":[553.7,742.5],"paddingInner":0,"paddingOuter":0},"axis":null},"y":{"field":"lo","type":"quantitative","scale":{"domain":[0,150],"range":[222.7,82.7],"nice":false,"zero":false}},
     "color":{"field":"group","type":"nominal","scale":{"domain":["WT","Eomes","Tgfbr2","DKO"],"range":["#ef3a26","#1fab1f","#a03ca0","#2456ee"]},"legend":null}}},
   {"data":{"name":"sumB"},"mark":{"type":"tick","thickness":2,"size":18,"opacity":1},
    "encoding":{"x":{"field":"group","type":"nominal","scale":{"type":"band","domain":["WT","Eomes","Tgfbr2","DKO"],"range":[553.7,742.5],"paddingInner":0,"paddingOuter":0},"axis":null},"y":{"field":"hi","type":"quantitative","scale":{"domain":[0,150],"range":[222.7,82.7],"nice":false,"zero":false}},
     "color":{"field":"group","type":"nominal","scale":{"domain":["WT","Eomes","Tgfbr2","DKO"],"range":["#ef3a26","#1fab1f","#a03ca0","#2456ee"]},"legend":null}}}
  ],"resolve":{"scale":{"color":"independent"}}}
 ],"resolve":{"scale":{"x":"independent"}}},

 {"layer":[
  {"layer":[
   {"data":{"name":"sigC"},"mark":{"type":"rule","strokeWidth":2,"color":"#000"},
    "encoding":{
     "x":{"field":"from","type":"quantitative","scale":{"domain":[-0.668,3.275],"range":[72.7,263.3],"nice":false,"zero":false},"axis":{"orient":"bottom","offset":-366.7,"values":[0,1,2,3],"labelExpr":"datum.value == 0 ? 'Naive' : datum.value == 1 ? 'CD122ˡᵒ' : ''","labelAngle":-45,"labelAlign":"right","labelBaseline":"top","labelFontSize":16,"labelPadding":2,"title":"CD44ʰⁱ","titleX":197,"titleY":76.7,"titleAlign":"center","titleBaseline":"alphabetic","titleFontSize":14,"titleAngle":0}},
     "x2":{"field":"to"},
     "y":{"field":"y","type":"quantitative","scale":{"domain":[0,400],"range":[448.3,309.9],"nice":false,"zero":false},"axis":{"orient":"left","offset":-72.7,"values":[0,100,200,300,400],"format":"d","labelFontSize":18,"labelPadding":1,"title":"Relative MFI of Bcl-2","titleFontSize":17,"titleX":-53.9,"titleY":376,"titleAngle":-90,"titleAlign":"center","titleBaseline":"middle"}}}},
   {"data":{"name":"sigC"},"mark":{"type":"text","fontSize":16,"baseline":"alphabetic","dy":2.4},
    "encoding":{"x":{"field":"mid","type":"quantitative","scale":{"domain":[-0.668,3.275],"range":[72.7,263.3],"nice":false,"zero":false}},"y":{"field":"y","type":"quantitative","scale":{"domain":[0,400],"range":[448.3,309.9],"nice":false,"zero":false}},"text":{"field":"label"}}},
   {"data":{"values":[{}]},"mark":{"type":"rule","strokeWidth":2,"color":"#000","yOffset":26.7},
    "encoding":{"x":{"datum":1.59,"type":"quantitative","scale":{"domain":[-0.668,3.275],"range":[72.7,263.3],"nice":false,"zero":false}},"x2":{"datum":3.62},"y":{"datum":0,"type":"quantitative","scale":{"domain":[0,400],"range":[448.3,309.9],"nice":false,"zero":false}}}},
   {"data":{"values":[{}]},"mark":{"type":"rule","strokeWidth":2,"color":"#000","yOffset":57.7},
    "encoding":{"x":{"datum":0.31,"type":"quantitative","scale":{"domain":[-0.668,3.275],"range":[72.7,263.3],"nice":false,"zero":false}},"x2":{"datum":3.62},"y":{"datum":0,"type":"quantitative","scale":{"domain":[0,400],"range":[448.3,309.9],"nice":false,"zero":false}}}},
   {"data":{"values":[{}]},"mark":{"type":"text","fontSize":16,"align":"left","baseline":"alphabetic"},
    "encoding":{"x":{"datum":-2.17,"type":"quantitative","scale":{"domain":[-0.668,3.275],"range":[72.7,263.3],"nice":false,"zero":false}},"y":{"datum":452.6,"type":"quantitative","scale":{"domain":[0,400],"range":[448.3,309.9],"nice":false,"zero":false}},"text":{"value":"C"}}},
   {"data":{"values":[{}]},"mark":{"type":"text","fontSize":15,"align":"left","baseline":"alphabetic"},
    "encoding":{"x":{"datum":-0.93,"type":"quantitative","scale":{"domain":[-0.668,3.275],"range":[72.7,263.3],"nice":false,"zero":false}},"y":{"datum":457.5,"type":"quantitative","scale":{"domain":[0,400],"range":[448.3,309.9],"nice":false,"zero":false}},"text":{"value":"WT CD8⁺"}}}
  ]},
  {"data":{"name":"linesC"},"mark":{"type":"line","color":"#000","strokeWidth":1.2},
   "encoding":{
    "x":{"field":"stage","type":"ordinal","sort":["Naive","CD122lo","Ly49-","Ly49+"],"scale":{"type":"point","domain":["Naive","CD122lo","Ly49-","Ly49+"],"range":[105,250],"padding":0},"axis":{"orient":"bottom","offset":-366.7,"domain":false,"ticks":false,"tickSize":0,"labelExpr":"datum.value == 'Ly49-' || datum.value == 'Ly49+' ? datum.value : ''","labelAngle":0,"labelAlign":"center","labelBaseline":"top","labelPadding":10.7,"labelFontSize":14,"title":"CD122ʰⁱ","titleX":228,"titleY":40,"titleAlign":"center","titleBaseline":"alphabetic","titleFontSize":14,"titleAngle":0}},
    "y":{"field":"mfi","type":"quantitative","scale":{"domain":[0,400],"range":[448.3,309.9],"nice":false,"zero":false}},
    "detail":{"field":"m","type":"nominal"}}}
 ],"resolve":{"scale":{"x":"independent"}}},

 {"layer":[
  {"data":{"values":[{}]},"mark":{"type":"rect","filled":false,"color":"#000","strokeWidth":1.2},
   "encoding":{"x":{"datum":0,"type":"quantitative","scale":{"domain":[0,100],"range":[320.7,427.7],"nice":false,"zero":false},"axis":{"orient":"bottom","offset":-330.7,"values":[3,10,17,21,24,26,28,29.5,31,42,49,53,56,58,60,61.5,63,74,81,85,88,90,92,93.5,95],"domain":false,"tickSize":3,"tickWidth":0.8,"tickColor":"#333","labels":false,"title":null}},"x2":{"datum":100},
    "y":{"datum":0,"type":"quantitative","scale":{"domain":[0,100],"range":[484.3,377.7],"nice":false,"zero":false},"axis":{"orient":"left","offset":-320.7,"values":[3,8,20,27,31,34,36,38,39.5,41,52,59,63,66,68,70,71.5,73,84,91,95,98],"domain":false,"tickSize":3,"tickWidth":0.8,"tickColor":"#333","labels":false,"title":null}},"y2":{"datum":100}}},
  {"data":{"values":[{}]},"mark":{"type":"text","fontSize":16,"align":"right","baseline":"middle","dx":-4.5},"encoding":{"x":{"datum":0,"type":"quantitative","scale":{"domain":[0,100],"range":[320.7,427.7],"nice":false,"zero":false}},"y":{"datum":8,"type":"quantitative","scale":{"domain":[0,100],"range":[484.3,377.7],"nice":false,"zero":false}},"text":{"value":"0"}}},
  {"data":{"values":[{}]},"mark":{"type":"text","fontSize":15,"align":"center","baseline":"top","dy":6.5},"encoding":{"x":{"datum":10,"type":"quantitative","scale":{"domain":[0,100],"range":[320.7,427.7],"nice":false,"zero":false}},"y":{"datum":0,"type":"quantitative","scale":{"domain":[0,100],"range":[484.3,377.7],"nice":false,"zero":false}},"text":{"value":"0"}}},
  {"data":{"values":[{}]},"mark":{"type":"rule","color":"#000","strokeWidth":1.2},"encoding":{"x":{"datum":53.5,"type":"quantitative","scale":{"domain":[0,100],"range":[320.7,427.7],"nice":false,"zero":false}},"y":{"datum":0,"type":"quantitative","scale":{"domain":[0,100],"range":[484.3,377.7],"nice":false,"zero":false}},"y2":{"datum":100}}},
  {"data":{"values":[{}]},"mark":{"type":"rule","color":"#000","strokeWidth":1.2},"encoding":{"x":{"datum":0,"type":"quantitative","scale":{"domain":[0,100],"range":[320.7,427.7],"nice":false,"zero":false}},"x2":{"datum":100},"y":{"datum":44.5,"type":"quantitative","scale":{"domain":[0,100],"range":[484.3,377.7],"nice":false,"zero":false}}}},
  {"data":{"name":"eventsD"},"transform":[{"filter":"datum.geno == 'WT'"}],"mark":{"type":"point","filled":true,"size":3,"color":"#666","opacity":1},"encoding":{"x":{"field":"bcl2","type":"quantitative","scale":{"domain":[0,100],"range":[320.7,427.7],"nice":false,"zero":false}},"y":{"field":"cd122","type":"quantitative","scale":{"domain":[0,100],"range":[484.3,377.7],"nice":false,"zero":false}}}},
  {"data":{"name":"flowD"},"transform":[{"filter":"datum.geno == 'WT'"}],"mark":{"type":"point","filled":false,"color":"#000","strokeWidth":0.8,"opacity":1},"encoding":{"x":{"field":"bcl2","type":"quantitative","scale":{"domain":[0,100],"range":[320.7,427.7],"nice":false,"zero":false}},"y":{"field":"cd122","type":"quantitative","scale":{"domain":[0,100],"range":[484.3,377.7],"nice":false,"zero":false}},
    "shape":{"field":"form","type":"nominal","scale":{"domain":["o","t","m","w","x"],"range":["circle","M-1,0A1,1.2,0,1,0,1,0A1,1.2,0,1,0,-1,0Z","M-1,0A1,0.75,0,1,0,1,0A1,0.75,0,1,0,-1,0Z","M-1,0A1,0.5,0,1,0,1,0A1,0.5,0,1,0,-1,0Z","M-1,0A1,0.35,0,1,0,1,0A1,0.35,0,1,0,-1,0Z"]},"legend":null},
    "size":{"field":"hw","type":"quantitative","scale":{"type":"pow","exponent":2,"domain":[0,30],"range":[0,4122]},"legend":null}}},
  {"data":{"name":"pctD"},"transform":[{"filter":"datum.geno == 'WT'"}],"mark":{"type":"text","fontSize":16,"align":"left","baseline":"alphabetic"},"encoding":{"x":{"datum":6,"type":"quantitative","scale":{"domain":[0,100],"range":[320.7,427.7],"nice":false,"zero":false}},"y":{"datum":67,"type":"quantitative","scale":{"domain":[0,100],"range":[484.3,377.7],"nice":false,"zero":false}},"text":{"field":"ul"}}},
  {"data":{"name":"pctD"},"transform":[{"filter":"datum.geno == 'WT'"}],"mark":{"type":"text","fontSize":16,"align":"right","baseline":"alphabetic"},"encoding":{"x":{"datum":96,"type":"quantitative","scale":{"domain":[0,100],"range":[320.7,427.7],"nice":false,"zero":false}},"y":{"datum":67,"type":"quantitative","scale":{"domain":[0,100],"range":[484.3,377.7],"nice":false,"zero":false}},"text":{"field":"ur"}}},
  {"data":{"name":"pctD"},"transform":[{"filter":"datum.geno == 'WT'"}],"mark":{"type":"text","fontSize":15,"align":"center","baseline":"top","dy":-16,"lineBreak":"\n","lineHeight":20},"encoding":{"x":{"datum":50,"type":"quantitative","scale":{"domain":[0,100],"range":[320.7,427.7],"nice":false,"zero":false}},"y":{"datum":100,"type":"quantitative","scale":{"domain":[0,100],"range":[484.3,377.7],"nice":false,"zero":false}},"text":{"field":"title"}}}
 ]},

 {"layer":[
  {"data":{"values":[{}]},"mark":{"type":"rect","filled":false,"color":"#000","strokeWidth":1.2},
   "encoding":{"x":{"datum":0,"type":"quantitative","scale":{"domain":[0,100],"range":[434.3,540],"nice":false,"zero":false},"axis":{"orient":"bottom","offset":-331.7,"values":[3,10,17,21,24,26,28,29.5,31,42,49,53,56,58,60,61.5,63,74,81,85,88,90,92,93.5,95],"domain":false,"tickSize":3,"tickWidth":0.8,"tickColor":"#333","labels":false,"title":null}},"x2":{"datum":100},
    "y":{"datum":0,"type":"quantitative","scale":{"domain":[0,100],"range":[483.3,376.7],"nice":false,"zero":false},"axis":{"orient":"left","offset":-434.3,"values":[3,8,20,27,31,34,36,38,39.5,41,52,59,63,66,68,70,71.5,73,84,91,95,98],"domain":false,"tickSize":3,"tickWidth":0.8,"tickColor":"#333","labels":false,"title":null}},"y2":{"datum":100}}},
  {"data":{"values":[{}]},"mark":{"type":"rule","color":"#000","strokeWidth":1.2},"encoding":{"x":{"datum":53.5,"type":"quantitative","scale":{"domain":[0,100],"range":[434.3,540],"nice":false,"zero":false}},"y":{"datum":0,"type":"quantitative","scale":{"domain":[0,100],"range":[483.3,376.7],"nice":false,"zero":false}},"y2":{"datum":100}}},
  {"data":{"values":[{}]},"mark":{"type":"rule","color":"#000","strokeWidth":1.2},"encoding":{"x":{"datum":0,"type":"quantitative","scale":{"domain":[0,100],"range":[434.3,540],"nice":false,"zero":false}},"x2":{"datum":100},"y":{"datum":44.5,"type":"quantitative","scale":{"domain":[0,100],"range":[483.3,376.7],"nice":false,"zero":false}}}},
  {"data":{"name":"eventsD"},"transform":[{"filter":"datum.geno == 'Eomes'"}],"mark":{"type":"point","filled":true,"size":3,"color":"#666","opacity":1},"encoding":{"x":{"field":"bcl2","type":"quantitative","scale":{"domain":[0,100],"range":[434.3,540],"nice":false,"zero":false}},"y":{"field":"cd122","type":"quantitative","scale":{"domain":[0,100],"range":[483.3,376.7],"nice":false,"zero":false}}}},
  {"data":{"name":"flowD"},"transform":[{"filter":"datum.geno == 'Eomes'"}],"mark":{"type":"point","filled":false,"color":"#000","strokeWidth":0.8,"opacity":1},"encoding":{"x":{"field":"bcl2","type":"quantitative","scale":{"domain":[0,100],"range":[434.3,540],"nice":false,"zero":false}},"y":{"field":"cd122","type":"quantitative","scale":{"domain":[0,100],"range":[483.3,376.7],"nice":false,"zero":false}},
    "shape":{"field":"form","type":"nominal","scale":{"domain":["o","t","m","w","x"],"range":["circle","M-1,0A1,1.2,0,1,0,1,0A1,1.2,0,1,0,-1,0Z","M-1,0A1,0.75,0,1,0,1,0A1,0.75,0,1,0,-1,0Z","M-1,0A1,0.5,0,1,0,1,0A1,0.5,0,1,0,-1,0Z","M-1,0A1,0.35,0,1,0,1,0A1,0.35,0,1,0,-1,0Z"]},"legend":null},
    "size":{"field":"hw","type":"quantitative","scale":{"type":"pow","exponent":2,"domain":[0,30],"range":[0,4122]},"legend":null}}},
  {"data":{"name":"pctD"},"transform":[{"filter":"datum.geno == 'Eomes'"}],"mark":{"type":"text","fontSize":16,"align":"left","baseline":"alphabetic"},"encoding":{"x":{"datum":6,"type":"quantitative","scale":{"domain":[0,100],"range":[434.3,540],"nice":false,"zero":false}},"y":{"datum":67,"type":"quantitative","scale":{"domain":[0,100],"range":[483.3,376.7],"nice":false,"zero":false}},"text":{"field":"ul"}}},
  {"data":{"name":"pctD"},"transform":[{"filter":"datum.geno == 'Eomes'"}],"mark":{"type":"text","fontSize":16,"align":"right","baseline":"alphabetic"},"encoding":{"x":{"datum":96,"type":"quantitative","scale":{"domain":[0,100],"range":[434.3,540],"nice":false,"zero":false}},"y":{"datum":67,"type":"quantitative","scale":{"domain":[0,100],"range":[483.3,376.7],"nice":false,"zero":false}},"text":{"field":"ur"}}},
  {"data":{"name":"pctD"},"transform":[{"filter":"datum.geno == 'Eomes'"}],"mark":{"type":"text","fontSize":15,"fontStyle":"italic","align":"center","baseline":"top","dy":-15,"lineBreak":"\n","lineHeight":20},"encoding":{"x":{"datum":54,"type":"quantitative","scale":{"domain":[0,100],"range":[434.3,540],"nice":false,"zero":false}},"y":{"datum":100,"type":"quantitative","scale":{"domain":[0,100],"range":[483.3,376.7],"nice":false,"zero":false}},"text":{"field":"title"}}}
 ]},

 {"layer":[
  {"data":{"values":[{}]},"mark":{"type":"rect","filled":false,"color":"#000","strokeWidth":1.2},
   "encoding":{"x":{"datum":0,"type":"quantitative","scale":{"domain":[0,100],"range":[545.3,651.7],"nice":false,"zero":false},"axis":{"orient":"bottom","offset":-331.7,"values":[3,10,17,21,24,26,28,29.5,31,42,49,53,56,58,60,61.5,63,74,81,85,88,90,92,93.5,95],"domain":false,"tickSize":3,"tickWidth":0.8,"tickColor":"#333","labels":false,"title":null}},"x2":{"datum":100},
    "y":{"datum":0,"type":"quantitative","scale":{"domain":[0,100],"range":[483.3,376.7],"nice":false,"zero":false},"axis":{"orient":"left","offset":-545.3,"values":[3,8,20,27,31,34,36,38,39.5,41,52,59,63,66,68,70,71.5,73,84,91,95,98],"domain":false,"tickSize":3,"tickWidth":0.8,"tickColor":"#333","labels":false,"title":null}},"y2":{"datum":100}}},
  {"data":{"values":[{}]},"mark":{"type":"rule","color":"#000","strokeWidth":1.2},"encoding":{"x":{"datum":53.5,"type":"quantitative","scale":{"domain":[0,100],"range":[545.3,651.7],"nice":false,"zero":false}},"y":{"datum":0,"type":"quantitative","scale":{"domain":[0,100],"range":[483.3,376.7],"nice":false,"zero":false}},"y2":{"datum":100}}},
  {"data":{"values":[{}]},"mark":{"type":"rule","color":"#000","strokeWidth":1.2},"encoding":{"x":{"datum":0,"type":"quantitative","scale":{"domain":[0,100],"range":[545.3,651.7],"nice":false,"zero":false}},"x2":{"datum":100},"y":{"datum":44.5,"type":"quantitative","scale":{"domain":[0,100],"range":[483.3,376.7],"nice":false,"zero":false}}}},
  {"data":{"name":"eventsD"},"transform":[{"filter":"datum.geno == 'Tgfbr2'"}],"mark":{"type":"point","filled":true,"size":3,"color":"#666","opacity":1},"encoding":{"x":{"field":"bcl2","type":"quantitative","scale":{"domain":[0,100],"range":[545.3,651.7],"nice":false,"zero":false}},"y":{"field":"cd122","type":"quantitative","scale":{"domain":[0,100],"range":[483.3,376.7],"nice":false,"zero":false}}}},
  {"data":{"name":"flowD"},"transform":[{"filter":"datum.geno == 'Tgfbr2'"}],"mark":{"type":"point","filled":false,"color":"#000","strokeWidth":0.8,"opacity":1},"encoding":{"x":{"field":"bcl2","type":"quantitative","scale":{"domain":[0,100],"range":[545.3,651.7],"nice":false,"zero":false}},"y":{"field":"cd122","type":"quantitative","scale":{"domain":[0,100],"range":[483.3,376.7],"nice":false,"zero":false}},
    "shape":{"field":"form","type":"nominal","scale":{"domain":["o","t","m","w","x"],"range":["circle","M-1,0A1,1.2,0,1,0,1,0A1,1.2,0,1,0,-1,0Z","M-1,0A1,0.75,0,1,0,1,0A1,0.75,0,1,0,-1,0Z","M-1,0A1,0.5,0,1,0,1,0A1,0.5,0,1,0,-1,0Z","M-1,0A1,0.35,0,1,0,1,0A1,0.35,0,1,0,-1,0Z"]},"legend":null},
    "size":{"field":"hw","type":"quantitative","scale":{"type":"pow","exponent":2,"domain":[0,30],"range":[0,4122]},"legend":null}}},
  {"data":{"name":"pctD"},"transform":[{"filter":"datum.geno == 'Tgfbr2'"}],"mark":{"type":"text","fontSize":16,"align":"left","baseline":"alphabetic"},"encoding":{"x":{"datum":6,"type":"quantitative","scale":{"domain":[0,100],"range":[545.3,651.7],"nice":false,"zero":false}},"y":{"datum":67,"type":"quantitative","scale":{"domain":[0,100],"range":[483.3,376.7],"nice":false,"zero":false}},"text":{"field":"ul"}}},
  {"data":{"name":"pctD"},"transform":[{"filter":"datum.geno == 'Tgfbr2'"}],"mark":{"type":"text","fontSize":16,"align":"right","baseline":"alphabetic"},"encoding":{"x":{"datum":96,"type":"quantitative","scale":{"domain":[0,100],"range":[545.3,651.7],"nice":false,"zero":false}},"y":{"datum":67,"type":"quantitative","scale":{"domain":[0,100],"range":[483.3,376.7],"nice":false,"zero":false}},"text":{"field":"ur"}}},
  {"data":{"name":"pctD"},"transform":[{"filter":"datum.geno == 'Tgfbr2'"}],"mark":{"type":"text","fontSize":15,"fontStyle":"italic","align":"center","baseline":"top","dy":-18,"lineBreak":"\n","lineHeight":20},"encoding":{"x":{"datum":54,"type":"quantitative","scale":{"domain":[0,100],"range":[545.3,651.7],"nice":false,"zero":false}},"y":{"datum":100,"type":"quantitative","scale":{"domain":[0,100],"range":[483.3,376.7],"nice":false,"zero":false}},"text":{"field":"title"}}}
 ]},

 {"layer":[
  {"data":{"values":[{}]},"mark":{"type":"rect","filled":false,"color":"#000","strokeWidth":1.2},
   "encoding":{"x":{"datum":0,"type":"quantitative","scale":{"domain":[0,100],"range":[657.7,765],"nice":false,"zero":false},"axis":{"orient":"bottom","offset":-332.3,"values":[3,10,17,21,24,26,28,29.5,31,42,49,53,56,58,60,61.5,63,74,81,85,88,90,92,93.5,95],"domain":false,"tickSize":3,"tickWidth":0.8,"tickColor":"#333","labels":false,"title":null}},"x2":{"datum":100},
    "y":{"datum":0,"type":"quantitative","scale":{"domain":[0,100],"range":[482.7,375],"nice":false,"zero":false},"axis":{"orient":"left","offset":-657.7,"values":[3,8,20,27,31,34,36,38,39.5,41,52,59,63,66,68,70,71.5,73,84,91,95,98],"domain":false,"tickSize":3,"tickWidth":0.8,"tickColor":"#333","labels":false,"title":null}},"y2":{"datum":100}}},
  {"data":{"values":[{}]},"mark":{"type":"rule","color":"#000","strokeWidth":1.2},"encoding":{"x":{"datum":53.5,"type":"quantitative","scale":{"domain":[0,100],"range":[657.7,765],"nice":false,"zero":false}},"y":{"datum":0,"type":"quantitative","scale":{"domain":[0,100],"range":[482.7,375],"nice":false,"zero":false}},"y2":{"datum":100}}},
  {"data":{"values":[{}]},"mark":{"type":"rule","color":"#000","strokeWidth":1.2},"encoding":{"x":{"datum":0,"type":"quantitative","scale":{"domain":[0,100],"range":[657.7,765],"nice":false,"zero":false}},"x2":{"datum":100},"y":{"datum":44.5,"type":"quantitative","scale":{"domain":[0,100],"range":[482.7,375],"nice":false,"zero":false}}}},
  {"data":{"name":"eventsD"},"transform":[{"filter":"datum.geno == 'DKO'"}],"mark":{"type":"point","filled":true,"size":3,"color":"#666","opacity":1},"encoding":{"x":{"field":"bcl2","type":"quantitative","scale":{"domain":[0,100],"range":[657.7,765],"nice":false,"zero":false}},"y":{"field":"cd122","type":"quantitative","scale":{"domain":[0,100],"range":[482.7,375],"nice":false,"zero":false}}}},
  {"data":{"name":"flowD"},"transform":[{"filter":"datum.geno == 'DKO'"}],"mark":{"type":"point","filled":false,"color":"#000","strokeWidth":0.8,"opacity":1},"encoding":{"x":{"field":"bcl2","type":"quantitative","scale":{"domain":[0,100],"range":[657.7,765],"nice":false,"zero":false}},"y":{"field":"cd122","type":"quantitative","scale":{"domain":[0,100],"range":[482.7,375],"nice":false,"zero":false}},
    "shape":{"field":"form","type":"nominal","scale":{"domain":["o","t","m","w","x"],"range":["circle","M-1,0A1,1.2,0,1,0,1,0A1,1.2,0,1,0,-1,0Z","M-1,0A1,0.75,0,1,0,1,0A1,0.75,0,1,0,-1,0Z","M-1,0A1,0.5,0,1,0,1,0A1,0.5,0,1,0,-1,0Z","M-1,0A1,0.35,0,1,0,1,0A1,0.35,0,1,0,-1,0Z"]},"legend":null},
    "size":{"field":"hw","type":"quantitative","scale":{"type":"pow","exponent":2,"domain":[0,30],"range":[0,4122]},"legend":null}}},
  {"data":{"name":"pctD"},"transform":[{"filter":"datum.geno == 'DKO'"}],"mark":{"type":"text","fontSize":16,"align":"left","baseline":"alphabetic"},"encoding":{"x":{"datum":6,"type":"quantitative","scale":{"domain":[0,100],"range":[657.7,765],"nice":false,"zero":false}},"y":{"datum":67,"type":"quantitative","scale":{"domain":[0,100],"range":[482.7,375],"nice":false,"zero":false}},"text":{"field":"ul"}}},
  {"data":{"name":"pctD"},"transform":[{"filter":"datum.geno == 'DKO'"}],"mark":{"type":"text","fontSize":16,"align":"right","baseline":"alphabetic"},"encoding":{"x":{"datum":96,"type":"quantitative","scale":{"domain":[0,100],"range":[657.7,765],"nice":false,"zero":false}},"y":{"datum":67,"type":"quantitative","scale":{"domain":[0,100],"range":[482.7,375],"nice":false,"zero":false}},"text":{"field":"ur"}}},
  {"data":{"name":"pctD"},"transform":[{"filter":"datum.geno == 'DKO'"}],"mark":{"type":"text","fontSize":15,"fontStyle":"italic","align":"center","baseline":"top","dy":-37.7,"lineBreak":"\n","lineHeight":20},"encoding":{"x":{"datum":53,"type":"quantitative","scale":{"domain":[0,100],"range":[657.7,765],"nice":false,"zero":false}},"y":{"datum":100,"type":"quantitative","scale":{"domain":[0,100],"range":[482.7,375],"nice":false,"zero":false}},"text":{"field":"title"}}}
 ]},

 {"layer":[
  {"data":{"values":[{}]},"mark":{"type":"rule","color":"#000","strokeWidth":1.5},"encoding":{"x":{"datum":0,"type":"quantitative","scale":{"domain":[0,1],"range":[305.7,726.7],"nice":false,"zero":false},"axis":null},"x2":{"datum":1},"y":{"datum":0,"type":"quantitative","scale":{"domain":[0,1],"range":[503.3,433],"nice":false,"zero":false},"axis":null}}},
  {"data":{"values":[{}]},"mark":{"type":"rule","color":"#000","strokeWidth":1.5},"encoding":{"x":{"datum":0,"type":"quantitative","scale":{"domain":[0,1],"range":[305.7,726.7],"nice":false,"zero":false},"axis":null},"y":{"datum":0,"type":"quantitative","scale":{"domain":[0,1],"range":[503.3,433],"nice":false,"zero":false},"axis":null},"y2":{"datum":1}}},
  {"data":{"values":[{}]},"mark":{"type":"text","fontSize":16,"align":"left","baseline":"middle","dx":1},"encoding":{"x":{"datum":1,"type":"quantitative","scale":{"domain":[0,1],"range":[305.7,726.7],"nice":false,"zero":false},"axis":null},"y":{"datum":0,"type":"quantitative","scale":{"domain":[0,1],"range":[503.3,433],"nice":false,"zero":false},"axis":null},"text":{"value":"Bcl-2"}}},
  {"data":{"values":[{}]},"mark":{"type":"text","fontSize":16,"align":"center","baseline":"middle","angle":270},"encoding":{"x":{"datum":0,"type":"quantitative","scale":{"domain":[0,1],"range":[305.7,726.7],"nice":false,"zero":false},"axis":null},"y":{"datum":1.33,"type":"quantitative","scale":{"domain":[0,1],"range":[503.3,433],"nice":false,"zero":false},"axis":null},"text":{"value":"CD122"}}},
  {"data":{"values":[{}]},"mark":{"type":"text","fontSize":16,"align":"left","baseline":"alphabetic"},"encoding":{"x":{"datum":-0.0214,"type":"quantitative","scale":{"domain":[0,1],"range":[305.7,726.7],"nice":false,"zero":false},"axis":null},"y":{"datum":2.205,"type":"quantitative","scale":{"domain":[0,1],"range":[503.3,433],"nice":false,"zero":false},"axis":null},"text":{"value":"D"}}},
  {"data":{"values":[{}]},"mark":{"type":"text","fontSize":16,"align":"left","baseline":"alphabetic"},"encoding":{"x":{"datum":0.0299,"type":"quantitative","scale":{"domain":[0,1],"range":[305.7,726.7],"nice":false,"zero":false},"axis":null},"y":{"datum":2.205,"type":"quantitative","scale":{"domain":[0,1],"range":[503.3,433],"nice":false,"zero":false},"axis":null},"text":{"value":"Pre-gated on CD122ʰⁱLy49⁺ CD8"}}}
 ]},

 {"layer":[
  {"layer":[
   {"data":{"name":"sigEh"},"mark":{"type":"rule","strokeWidth":1.5,"color":"#000"},
    "encoding":{
     "x":{"field":"from","type":"quantitative","scale":{"domain":[-0.681,3.445],"range":[74,281.7],"nice":false,"zero":false},"axis":{"orient":"bottom","offset":-70.7,"values":[0,1,2,3],"labelExpr":"datum.value == 0 ? 'WT' : datum.value == 1 ? 'Eomes⁻/⁻' : datum.value == 2 ? 'Tgfbr2⁻/⁻' : ['Tgfbr2⁻/⁻', 'Eomes⁻/⁻']","labelAngle":-45,"labelAlign":"right","labelBaseline":"top","labelFontSize":14,"labelLineHeight":16,"labelPadding":2,"tickSize":6,"title":null}},
     "x2":{"field":"to"},
     "y":{"field":"y","type":"quantitative","scale":{"domain":[0,120],"range":[744.3,599.1],"nice":false,"zero":false},"axis":{"orient":"left","offset":-74,"values":[0,50,100],"format":"d","labelFontSize":20,"labelPadding":1,"tickSize":6,"title":"Relative MFI of Bcl-2","titleFontSize":17,"titleX":-49,"titleY":671,"titleAngle":-90,"titleAlign":"center","titleBaseline":"middle"}}}},
   {"data":{"name":"sigEv"},"mark":{"type":"rule","strokeWidth":1.5,"color":"#000"},
    "encoding":{"x":{"field":"x","type":"quantitative","scale":{"domain":[-0.681,3.445],"range":[74,281.7],"nice":false,"zero":false}},"y":{"field":"y1","type":"quantitative","scale":{"domain":[0,120],"range":[744.3,599.1],"nice":false,"zero":false}},"y2":{"field":"y2"}}},
   {"data":{"name":"sigEt"},"mark":{"type":"text","fontSize":16,"baseline":"alphabetic","dy":5},
    "encoding":{"x":{"field":"x","type":"quantitative","scale":{"domain":[-0.681,3.445],"range":[74,281.7],"nice":false,"zero":false}},"y":{"field":"y","type":"quantitative","scale":{"domain":[0,120],"range":[744.3,599.1],"nice":false,"zero":false}},"text":{"field":"t"}}},
   {"data":{"values":[{}]},"mark":{"type":"text","fontSize":16,"align":"left","baseline":"alphabetic"},
    "encoding":{"x":{"datum":-2.151,"type":"quantitative","scale":{"domain":[-0.681,3.445],"range":[74,281.7],"nice":false,"zero":false}},"y":{"datum":157.9,"type":"quantitative","scale":{"domain":[0,120],"range":[744.3,599.1],"nice":false,"zero":false}},"text":{"value":"E"}}},
   {"data":{"values":[{}]},"mark":{"type":"text","fontSize":16,"align":"left","baseline":"alphabetic"},
    "encoding":{"x":{"datum":-1.323,"type":"quantitative","scale":{"domain":[-0.681,3.445],"range":[74,281.7],"nice":false,"zero":false}},"y":{"datum":157.9,"type":"quantitative","scale":{"domain":[0,120],"range":[744.3,599.1],"nice":false,"zero":false}},"text":{"value":"CD122ʰⁱLy49⁺ CD8"}}}
  ]},
  {"layer":[
   {"data":{"name":"dotE"},"transform":[{"filter":"datum.group != 'DKO'"}],"mark":{"type":"point","filled":true,"size":66,"opacity":1},
    "encoding":{"x":{"field":"group","type":"nominal","scale":{"type":"band","domain":["WT","Eomes","Tgfbr2","DKO"],"range":[83.13,284.45],"paddingInner":0,"paddingOuter":0},"axis":null},
     "xOffset":{"field":"dx","type":"quantitative","scale":{"domain":[-1,1]}},
     "y":{"field":"mfi","type":"quantitative","scale":{"domain":[0,120],"range":[744.3,599.1],"nice":false,"zero":false}},
     "color":{"field":"group","type":"nominal","scale":{"domain":["WT","Eomes","Tgfbr2"],"range":["#ee2020","#1cb01c","#ad2aa4"]},"legend":null},
     "shape":{"field":"group","type":"nominal","scale":{"domain":["WT","Eomes","Tgfbr2"],"range":["circle","triangle-up","square"]},"legend":null}}},
   {"data":{"name":"dotE"},"transform":[{"filter":"datum.group == 'DKO'"}],"mark":{"type":"point","filled":false,"size":80,"strokeWidth":1.8,"color":"#2458e6","opacity":1},
    "encoding":{"x":{"field":"group","type":"nominal","scale":{"type":"band","domain":["WT","Eomes","Tgfbr2","DKO"],"range":[83.13,284.45],"paddingInner":0,"paddingOuter":0},"axis":null},
     "xOffset":{"field":"dx","type":"quantitative","scale":{"domain":[-1,1]}},
     "y":{"field":"mfi","type":"quantitative","scale":{"domain":[0,120],"range":[744.3,599.1],"nice":false,"zero":false}}}},
   {"data":{"name":"sumE"},"mark":{"type":"rule","strokeWidth":2},
    "encoding":{"x":{"field":"group","type":"nominal","scale":{"type":"band","domain":["WT","Eomes","Tgfbr2","DKO"],"range":[83.13,284.45],"paddingInner":0,"paddingOuter":0},"axis":null},"y":{"field":"lo","type":"quantitative","scale":{"domain":[0,120],"range":[744.3,599.1],"nice":false,"zero":false}},"y2":{"field":"hi"},
     "color":{"field":"group","type":"nominal","scale":{"domain":["WT","Eomes","Tgfbr2","DKO"],"range":["#ee2020","#1cb01c","#c04cc0","#2458e6"]},"legend":null}}},
   {"data":{"name":"sumE"},"mark":{"type":"tick","thickness":2,"size":33,"opacity":1},
    "encoding":{"x":{"field":"group","type":"nominal","scale":{"type":"band","domain":["WT","Eomes","Tgfbr2","DKO"],"range":[83.13,284.45],"paddingInner":0,"paddingOuter":0},"axis":null},"y":{"field":"mean","type":"quantitative","scale":{"domain":[0,120],"range":[744.3,599.1],"nice":false,"zero":false}},
     "color":{"field":"group","type":"nominal","scale":{"domain":["WT","Eomes","Tgfbr2","DKO"],"range":["#ee2020","#1cb01c","#c04cc0","#2458e6"]},"legend":null}}},
   {"data":{"name":"sumE"},"mark":{"type":"tick","thickness":2,"size":19,"opacity":1},
    "encoding":{"x":{"field":"group","type":"nominal","scale":{"type":"band","domain":["WT","Eomes","Tgfbr2","DKO"],"range":[83.13,284.45],"paddingInner":0,"paddingOuter":0},"axis":null},"y":{"field":"lo","type":"quantitative","scale":{"domain":[0,120],"range":[744.3,599.1],"nice":false,"zero":false}},
     "color":{"field":"group","type":"nominal","scale":{"domain":["WT","Eomes","Tgfbr2","DKO"],"range":["#ee2020","#1cb01c","#c04cc0","#2458e6"]},"legend":null}}},
   {"data":{"name":"sumE"},"mark":{"type":"tick","thickness":2,"size":19,"opacity":1},
    "encoding":{"x":{"field":"group","type":"nominal","scale":{"type":"band","domain":["WT","Eomes","Tgfbr2","DKO"],"range":[83.13,284.45],"paddingInner":0,"paddingOuter":0},"axis":null},"y":{"field":"hi","type":"quantitative","scale":{"domain":[0,120],"range":[744.3,599.1],"nice":false,"zero":false}},
     "color":{"field":"group","type":"nominal","scale":{"domain":["WT","Eomes","Tgfbr2","DKO"],"range":["#ee2020","#1cb01c","#c04cc0","#2458e6"]},"legend":null}}}
  ],"resolve":{"scale":{"color":"independent"}}}
 ],"resolve":{"scale":{"x":"independent"}}}
],
"resolve":{"scale":{"x":"independent","y":"independent","color":"independent","shape":"independent","size":"independent","xOffset":"independent"}}
}
